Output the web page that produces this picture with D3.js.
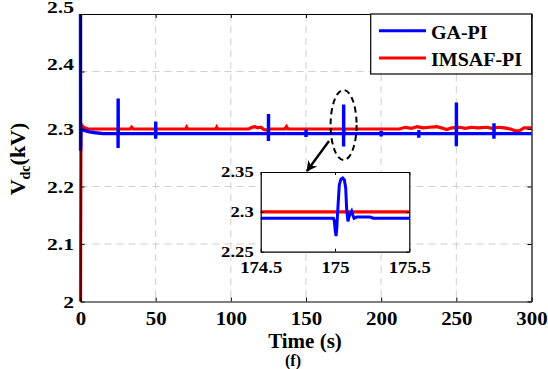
<!DOCTYPE html>
<html>
<head>
<meta charset="utf-8">
<script src="https://cdn.jsdelivr.net/npm/d3@7"></script>
<style>
  body { margin: 0; background: #fff; }
  text { font-family: "Liberation Serif", "Times New Roman", serif; font-weight: bold; fill: #000; }
</style>
</head>
<body>
<div id="chart-area"></div>
<script>
// values
let xTicks = [0, 50, 100, 150, 200, 250, 300];
let yTicks = [2, 2.1, 2.2, 2.3, 2.4, 2.5];
let insetXTicks = [174.5, 175, 175.5];
let insetYTicks = [2.25, 2.3, 2.35];
let seriesNames = ["GA-PI", "IMSAF-PI"];

// GA-PI start-up and settled level
let blueT = [0, 0.05, 0.3, 1, 3, 6, 10, 15, 300];
let blueV = [2.5, 2.262, 2.302, 2.299, 2.297, 2.295, 2.2935, 2.292, 2.292];
let blueLevel = 2.292;
// big spikes
let spikeT = [25, 50, 125, 250, 275];
let spikeHi = [2.353, 2.313, 2.326, 2.346, 2.31];
let spikeLo = [2.267, 2.283, 2.279, 2.27, 2.283];
// small blips
let blipT = [150, 200, 225];
let blipHi = [2.299, 2.297, 2.298];
let blipLo = [2.286, 2.287, 2.285];
// the 175 s spike as shown in the zoom box
let zoomT = [174.989, 174.995, 175.002, 175.007, 175.012, 175.016, 175.029, 175.04, 175.052, 175.063, 175.072, 175.078, 175.083, 175.087, 175.093, 175.1, 175.112, 175.12, 175.128, 175.146, 175.236, 175.258];
let zoomV = [2.292, 2.289, 2.276, 2.2697, 2.279, 2.294, 2.334, 2.341, 2.3425, 2.34, 2.33, 2.305, 2.2955, 2.288, 2.293, 2.297, 2.301, 2.296, 2.292, 2.2935, 2.2935, 2.292];

// IMSAF-PI
let redT = [0, 0.3, 0.8, 2, 5, 33, 34, 35, 70, 70.6, 71.2, 90, 90.6, 91.2,
  112, 114, 116, 118, 120, 122, 124, 126, 136, 137, 138,
  212, 216, 220, 224, 228, 232, 237, 240, 243.6, 247,
  252, 256, 260, 264, 270, 274, 278, 282, 286, 289, 292, 295, 300];
let redV = [2.0, 2.3, 2.307, 2.303, 2.3, 2.3, 2.303, 2.3, 2.3, 2.303, 2.3, 2.3, 2.303, 2.3,
  2.3, 2.303, 2.304, 2.302, 2.303, 2.299, 2.298, 2.3, 2.3, 2.304, 2.3,
  2.3, 2.303, 2.301, 2.304, 2.302, 2.303, 2.304, 2.302, 2.299, 2.302,
  2.303, 2.301, 2.303, 2.302, 2.303, 2.301, 2.303, 2.302, 2.3, 2.297, 2.297, 2.302, 2.302];

// build point lists
let bluePts = blueT.map((t, i) => [t, blueV[i]]);
spikeT.forEach((t, i) => {
  bluePts.push([t - 0.02, blueLevel], [t, spikeLo[i]], [t + 0.05, spikeHi[i]], [t + 0.12, blueLevel]);
});
blipT.forEach((t, i) => {
  bluePts.push([t - 0.02, blueLevel], [t, blipLo[i]], [t + 0.05, blipHi[i]], [t + 0.12, blueLevel]);
});
zoomT.forEach((t, i) => bluePts.push([t, zoomV[i]]));
bluePts.sort((a, b) => a[0] - b[0]);
let redPts = redT.map((t, i) => [t, redV[i]]);

let svg = d3.select("#chart-area").append("svg")
  .attr("width", 548).attr("height", 369);

// stretch text horizontally to match the figure's wide glyphs
function widen(sel, k) {
  sel.each(function() {
    let w = this.getComputedTextLength();
    d3.select(this).attr("textLength", w * k).attr("lengthAdjust", "spacingAndGlyphs");
  });
}

let x = d3.scaleLinear().domain([0, 300]).range([80.5, 531.5]);
let y = d3.scaleLinear().domain([2, 2.5]).range([301.5, 14]);

// grid
svg.append("g").selectAll("line")
  .data(xTicks.slice(1, -1)).enter().append("line")
  .attr("x1", d => x(d)).attr("x2", d => x(d))
  .attr("y1", y(2.5)).attr("y2", y(2))
  .attr("stroke", "#cfcfcf").attr("stroke-dasharray", "7,5");
svg.append("g").selectAll("line")
  .data(yTicks.slice(1, -1)).enter().append("line")
  .attr("y1", d => y(d)).attr("y2", d => y(d))
  .attr("x1", x(0)).attr("x2", x(300))
  .attr("stroke", "#cfcfcf").attr("stroke-dasharray", "7,5");

let line = d3.line().x(d => x(d[0])).y(d => y(d[1]));

svg.append("path").datum(redPts)
  .attr("d", line).attr("fill", "none")
  .attr("stroke", "#ff0000").attr("stroke-width", 3.2);
svg.append("path").datum(bluePts)
  .attr("d", line).attr("fill", "none")
  .attr("stroke", "#0000ff").attr("stroke-width", 3.4);

// axes
let xAxis = svg.append("g").attr("transform", "translate(0," + y(2) + ")")
  .call(d3.axisBottom(x).tickValues(xTicks).tickSizeInner(-4).tickSizeOuter(0).tickFormat(d3.format("d")));
xAxis.selectAll("text").attr("y", 23).attr("dy", 0).style("font-size", "19px");
widen(xAxis.selectAll("text"), 1.1);

let yAxis = svg.append("g").attr("transform", "translate(" + x(0) + ",0)")
  .call(d3.axisLeft(y).tickValues(yTicks).tickSizeInner(-4).tickSizeOuter(0).tickFormat(d => d === 2 ? "2" : d3.format(".1f")(d)));
yAxis.selectAll("text").attr("x", -6.5)
  .attr("dy", d => d >= 2.4 ? "-0.1em" : "0.35em")
  .style("font-size", "16px");
widen(yAxis.selectAll("text"), 1.35);

svg.append("g").attr("transform", "translate(0," + y(2.5) + ")")
  .call(d3.axisTop(x).tickValues(xTicks).tickSizeInner(-4).tickSizeOuter(0).tickFormat(""));
svg.append("g").attr("transform", "translate(" + x(300) + ",0)")
  .call(d3.axisRight(y).tickValues(yTicks).tickSizeInner(-4).tickSizeOuter(0).tickFormat(""));
svg.selectAll(".domain").attr("stroke", "#000").attr("stroke-width", 1.2);

// axis titles
let yLab = svg.append("text")
  .attr("transform", "translate(25,159) rotate(-90)")
  .attr("text-anchor", "middle").style("font-size", "22px");
yLab.append("tspan").text("V");
yLab.append("tspan").text("dc").style("font-size", "14px").attr("dy", 5);
yLab.append("tspan").text("(kV)").attr("dy", -5);

svg.append("text").attr("x", 305).attr("y", 348)
  .attr("text-anchor", "middle").style("font-size", "21px").text("Time (s)");
svg.append("text").attr("x", 293).attr("y", 366)
  .attr("text-anchor", "middle").style("font-size", "16px").text("(f)");

// dashed ellipse and arrow to the zoom box
svg.append("ellipse")
  .attr("cx", x(175)).attr("cy", 125).attr("rx", 13).attr("ry", 35)
  .attr("fill", "none").attr("stroke", "#000").attr("stroke-width", 2)
  .attr("stroke-dasharray", "6,4");
svg.append("defs").append("marker")
  .attr("id", "head").attr("viewBox", "0 0 10 10")
  .attr("refX", 9).attr("refY", 5)
  .attr("markerWidth", 4.5).attr("markerHeight", 4.5)
  .attr("markerUnits", "strokeWidth").attr("orient", "auto")
  .append("path").attr("d", "M0,0 L10,5 L0,10 L3,5 Z").attr("fill", "#000");
svg.append("line")
  .attr("x1", 329).attr("y1", 141).attr("x2", 307).attr("y2", 171)
  .attr("stroke", "#000").attr("stroke-width", 2.4)
  .attr("marker-end", "url(#head)");

// zoom box
let xi = d3.scaleLinear().domain([174.5, 175.5]).range([260.7, 409.3]);
let yi = d3.scaleLinear().domain([2.25, 2.35]).range([251.7, 172]);
let inset = svg.append("g");
inset.append("rect")
  .attr("x", xi(174.5)).attr("y", yi(2.35))
  .attr("width", xi(175.5) - xi(174.5)).attr("height", yi(2.25) - yi(2.35))
  .attr("fill", "#fff");
svg.select("defs").append("clipPath").attr("id", "clipInset")
  .append("rect")
  .attr("x", xi(174.5)).attr("y", yi(2.35))
  .attr("width", xi(175.5) - xi(174.5)).attr("height", yi(2.25) - yi(2.35));
let lineI = d3.line().x(d => xi(d[0])).y(d => yi(d[1]));
inset.append("path").datum(redPts)
  .attr("clip-path", "url(#clipInset)")
  .attr("d", lineI).attr("fill", "none")
  .attr("stroke", "#ff0000").attr("stroke-width", 3.4);
inset.append("path").datum(bluePts)
  .attr("clip-path", "url(#clipInset)")
  .attr("d", lineI).attr("fill", "none")
  .attr("stroke", "#0000ff").attr("stroke-width", 3);

let xiAxis = inset.append("g").attr("transform", "translate(0," + yi(2.25) + ")")
  .call(d3.axisBottom(xi).tickValues(insetXTicks).tickSizeInner(-3).tickSizeOuter(0).tickFormat(d3.format("")));
xiAxis.selectAll("text").attr("y", 21).attr("dy", 0).style("font-size", "17px");
widen(xiAxis.selectAll("text"), 1.1);
let yiAxis = inset.append("g").attr("transform", "translate(" + xi(174.5) + ",0)")
  .call(d3.axisLeft(yi).tickValues(insetYTicks).tickSizeInner(-3).tickSizeOuter(0).tickFormat(d3.format("")));
yiAxis.selectAll("text").attr("x", -7).attr("dy", "0.35em").style("font-size", "14px");
widen(yiAxis.selectAll("text"), 1.33);
inset.append("g").attr("transform", "translate(0," + yi(2.35) + ")")
  .call(d3.axisTop(xi).tickValues(insetXTicks).tickSizeInner(-3).tickSizeOuter(0).tickFormat(""));
inset.append("g").attr("transform", "translate(" + xi(175.5) + ",0)")
  .call(d3.axisRight(yi).tickValues(insetYTicks).tickSizeInner(-3).tickSizeOuter(0).tickFormat(""));
inset.selectAll(".domain").attr("stroke", "#000").attr("stroke-width", 1.2);

// legend
let legend = svg.append("g");
legend.append("rect")
  .attr("x", 370.7).attr("y", 14).attr("width", 161).attr("height", 60)
  .attr("fill", "#fff").attr("stroke", "#000").attr("stroke-width", 1.2);
let legendColors = ["#0000ff", "#ff0000"];
seriesNames.forEach((name, i) => {
  let ly = 30.7 + i * 27.3;
  legend.append("line")
    .attr("x1", 379).attr("x2", 426).attr("y1", ly).attr("y2", ly)
    .attr("stroke", legendColors[i]).attr("stroke-width", 3);
  legend.append("text").attr("x", 431).attr("y", ly + 8.3)
    .style("font-size", "18.5px").text(name);
});
widen(legend.selectAll("text"), 1.08);
</script>
</body>
</html>
